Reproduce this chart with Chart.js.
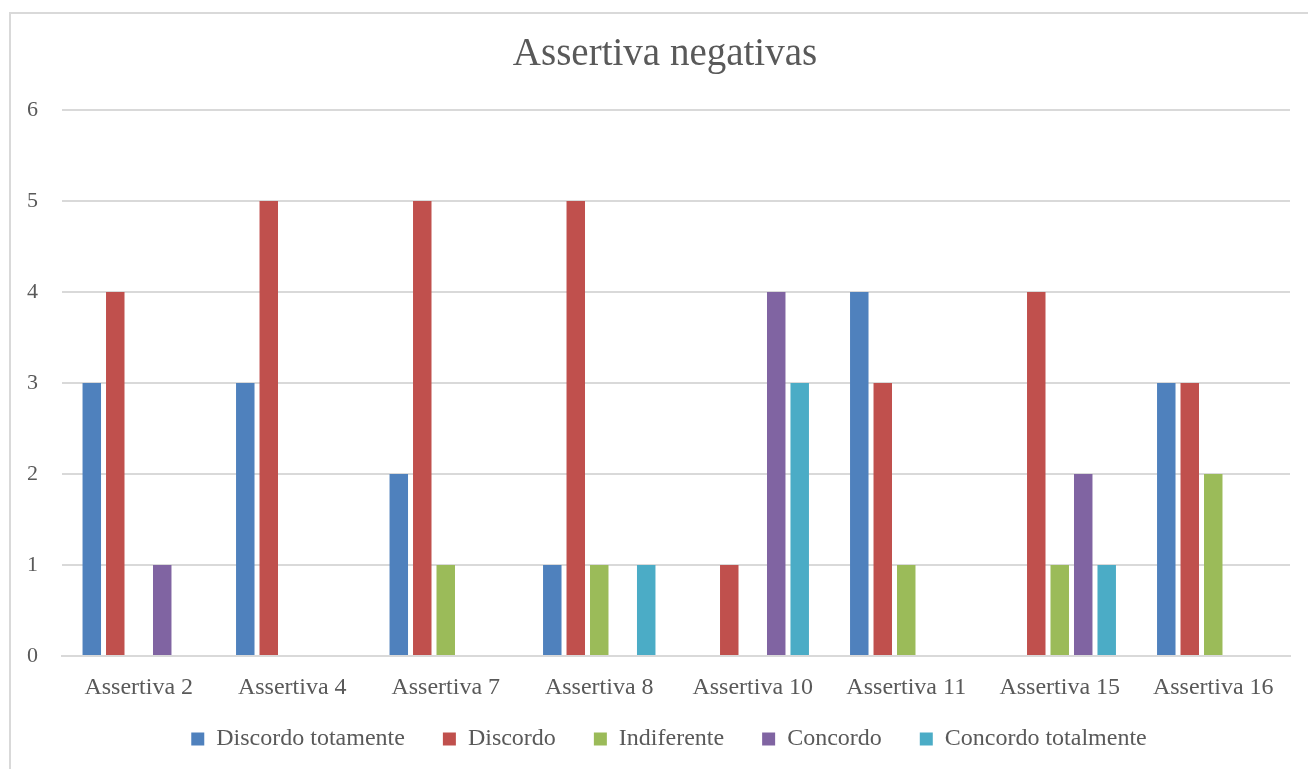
<!DOCTYPE html>
<html>
<head>
<meta charset="utf-8">
<title>Assertiva negativas</title>
<script src="https://cdn.jsdelivr.net/npm/chart.js@4/dist/chart.umd.min.js"></script>
<style>
  html, body { margin: 0; padding: 0; background: #ffffff; }
  #wrap { position: relative; width: 1308px; height: 769px; }
</style>
</head>
<body>
<div id="wrap"><canvas id="chart" width="1308" height="769"></canvas></div>
<script>
// Categories and the count of answers per response option
const categories = ['Assertiva 2', 'Assertiva 4', 'Assertiva 7', 'Assertiva 8', 'Assertiva 10', 'Assertiva 11', 'Assertiva 15', 'Assertiva 16'];
const discordoTotamente   = [3, 3, 2, 1, 0, 4, 0, 3];
const discordo            = [4, 5, 5, 5, 1, 3, 4, 3];
const indiferente         = [0, 0, 1, 1, 0, 1, 1, 2];
const concordo            = [1, 0, 0, 0, 4, 0, 2, 0];
const concordoTotalmente  = [0, 0, 0, 1, 3, 0, 1, 0];
const seriesNames = ['Discordo totamente', 'Discordo', 'Indiferente', 'Concordo', 'Concordo totalmente'];
const yTicks = [0, 1, 2, 3, 4, 5, 6];

const colors = ['#4F81BD', '#C0504D', '#9BBB59', '#8064A2', '#4BACC6'];
const seriesValues = [discordoTotamente, discordo, indiferente, concordo, concordoTotalmente];
const textColor = '#595959';
const gridColor = '#d9d9d9';
const fontFamily = '"Liberation Serif", "DejaVu Serif", serif';

// Thin frame along the top and left edges of the chart
const framePlugin = {
  id: 'frame',
  beforeDraw(chart) {
    const ctx = chart.ctx;
    ctx.save();
    ctx.strokeStyle = '#d9d9d9';
    ctx.lineWidth = 2;
    ctx.beginPath();
    ctx.moveTo(1308, 13);
    ctx.lineTo(10, 13);
    ctx.lineTo(10, 769);
    ctx.stroke();
    ctx.restore();
  }
};

// Nudge the title and legend boxes after layout
function moveBox(box, dx, dy) {
  box.left += dx; box.right += dx;
  box.top += dy; box.bottom += dy;
}
const nudgePlugin = {
  id: 'nudge',
  afterLayout(chart) {
    if (chart.titleBlock) moveBox(chart.titleBlock, 8, 0);
    if (chart.legend) moveBox(chart.legend, 12, -13);
  }
};

new Chart(document.getElementById('chart'), {
  type: 'bar',
  data: {
    labels: categories,
    datasets: seriesNames.map((name, i) => ({
      label: name,
      data: seriesValues[i],
      backgroundColor: colors[i],
      borderWidth: 0,
      categoryPercentage: 0.765,
      barPercentage: 0.787
    }))
  },
  options: {
    responsive: false,
    animation: false,
    layout: { padding: { left: 24, right: 18, top: 0, bottom: 1 } },
    plugins: {
      title: {
        display: true,
        text: 'Assertiva negativas',
        color: textColor,
        font: { family: fontFamily, size: 39, weight: 'normal', lineHeight: 1.2 },
        padding: { top: 31.5, bottom: 31.7 }
      },
      legend: {
        position: 'bottom',
        maxHeight: 66,
        labels: {
          color: textColor,
          font: { family: fontFamily, size: 24 },
          boxWidth: 13,
          boxHeight: 13,
          padding: 38
        }
      },
      tooltip: { enabled: false }
    },
    scales: {
      x: {
        grid: { display: false, drawTicks: false },
        border: { display: true, color: gridColor, width: 2 },
        ticks: {
          color: textColor,
          font: { family: fontFamily, size: 24 },
          padding: 17,
          maxRotation: 0
        },
        afterFit(scale) { scale.height = 46; }
      },
      y: {
        min: 0,
        max: 6,
        afterBuildTicks(scale) { scale.ticks = yTicks.map(v => ({ value: v })); },
        grid: { color: gridColor, lineWidth: 2, drawTicks: false },
        border: { display: false },
        ticks: {
          color: textColor,
          font: { family: fontFamily, size: 22 },
          padding: 24
        },
        afterFit(scale) { scale.width = 38; }
      }
    }
  },
  plugins: [framePlugin, nudgePlugin]
});
</script>
</body>
</html>
